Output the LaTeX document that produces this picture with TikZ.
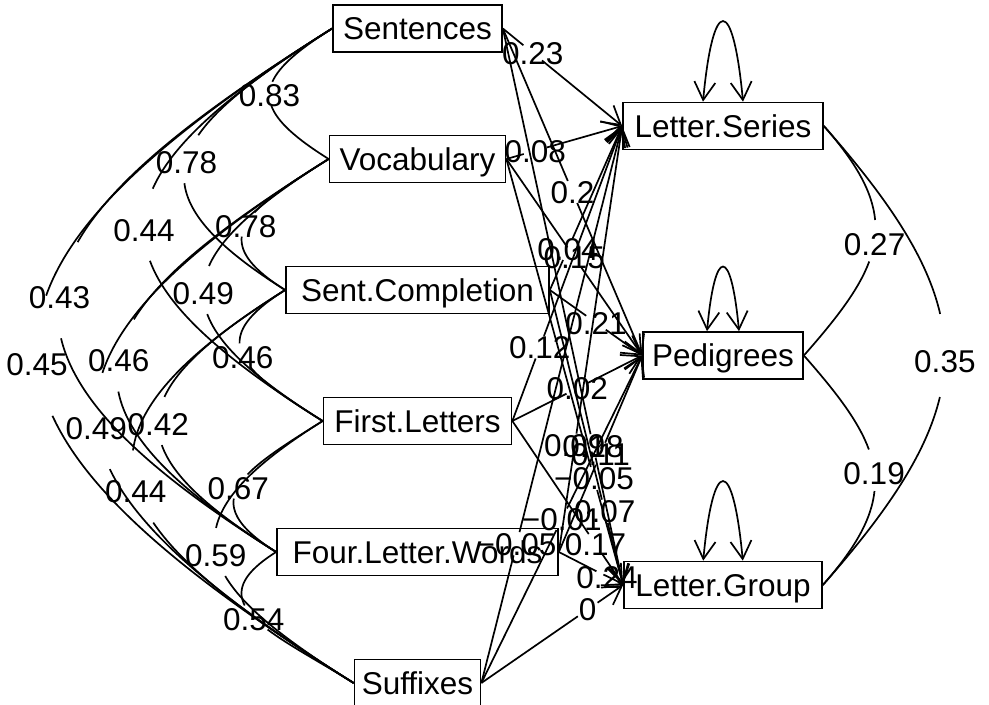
\documentclass[tikz,border=0pt]{standalone}
\usepackage{fontspec}
\setmainfont{Liberation Sans}
\usetikzlibrary{arrows.meta,calc}

\tikzset{
  box/.style={draw, line width=0.85pt, inner sep=0pt, minimum height=23.5pt,
    text height=11.28pt, text depth=0pt, font=\fontsize{15.75}{18}\selectfont},
  lab/.style={inner sep=0pt, text height=11.28pt, text depth=0pt,
    font=\fontsize{15.75}{18}\selectfont},
  >={Straight Barb[length=9pt,width=10.5pt]},
}

% cubic curve P0..P3 drawn with a gap for t in [0.4,0.6], label at the middle
\newcommand\bezgap[5]{%
  \coordinate (q01) at ($(#1)!0.4!(#2)$);
  \coordinate (q12) at ($(#2)!0.4!(#3)$);
  \coordinate (q23) at ($(#3)!0.4!(#4)$);
  \coordinate (q012) at ($(q01)!0.4!(q12)$);
  \coordinate (q123) at ($(q12)!0.4!(q23)$);
  \coordinate (qA) at ($(q012)!0.4!(q123)$);
  \draw (#1) .. controls (q01) and (q012) .. (qA);
  \coordinate (r32) at ($(#4)!0.4!(#3)$);
  \coordinate (r21) at ($(#3)!0.4!(#2)$);
  \coordinate (r10) at ($(#2)!0.4!(#1)$);
  \coordinate (r321) at ($(r32)!0.4!(r21)$);
  \coordinate (r210) at ($(r21)!0.4!(r10)$);
  \coordinate (rB) at ($(r321)!0.4!(r210)$);
  \draw (#4) .. controls (r32) and (r321) .. (rB);
  \path let \p1=(#1), \p2=(#2), \p3=(#3), \p4=(#4) in
    node[lab] at ({((\x1)+3*(\x2)+3*(\x3)+(\x4))/8},
                  {((\y1)+3*(\y2)+3*(\y3)+(\y4))/8-0.013*((\y1)-(\y4))}) {#5};
}
\newcommand\covleft[3]{%
  \path let \p1=(#1.west), \p2=(#2.west) in
    (#1.west) ++({-0.623*((\y1)-(\y2))},{-0.39*((\y1)-(\y2))}) coordinate (K1)
    (#2.west) ++({-0.623*((\y1)-(\y2))},{0.39*((\y1)-(\y2))}) coordinate (K2);
  \bezgap{#1.west}{K1}{K2}{#2.west}{#3}%
}
\newcommand\covright[3]{%
  \path let \p1=(#1.east), \p2=(#2.east) in
    (#1.east) ++({0.353*((\y1)-(\y2))},{-0.40*((\y1)-(\y2))}) coordinate (K1)
    (#2.east) ++({0.353*((\y1)-(\y2))},{0.40*((\y1)-(\y2))}) coordinate (K2);
  \bezgap{#1.east}{K1}{K2}{#2.east}{#3}%
}
\newcommand\regr[4]{%
  \path (#1.east) -- coordinate[pos=#3] (L) (#2.west);
  \node[lab] at (L) {#4};
  \draw (#1.east) -- ($(L)!6pt!(#1.east)$);
  \draw[->] ($(L)!6pt!(#2.west)$) -- (#2.west);
}
\newcommand\selfloop[3]{%
  \draw[<->] ($(#1.north)+(-#2,0)$) .. controls +(0.5*#2,-1.333*#3) and +(-0.5*#2,-1.333*#3) .. ($(#1.north)+(#2,0)$);
}

\begin{document}
\begin{tikzpicture}[x=0.5pt, y=-0.5pt, line width=0.85pt]
\useasboundingbox (0,0) rectangle (989,705);

% left nodes
\node[box, minimum width=84.5pt] (S)   at (417.5,28.5) {Sentences};
\node[box, minimum width=88pt]   (V)   at (417.5,159)  {Vocabulary};
\node[box, minimum width=131.5pt](SC)  at (417.5,290)  {Sent.Completion};
\node[box, minimum width=94pt]   (FL)  at (417.5,421)  {First.Letters};
\node[box, minimum width=140.5pt](FLW) at (417.5,552)  {Four.Letter.Words};
\node[box, minimum width=63pt]   (Suf) at (417.5,683)  {Suffixes};
% right nodes
\node[box, minimum width=100pt]  (LS)  at (723,126)    {Letter.Series};
\node[box, minimum width=80pt]   (P)   at (723,355.5)  {Pedigrees};
\node[box, minimum width=99pt]   (LG)  at (723,585)    {Letter.Group};

% covariances among predictors
\covleft{S}{V}{0.83}
\covleft{S}{SC}{0.78}
\covleft{S}{FL}{0.44}
\covleft{S}{FLW}{0.43}
\covleft{S}{Suf}{0.45}
\covleft{V}{SC}{0.78}
\covleft{V}{FL}{0.49}
\covleft{V}{FLW}{0.46}
\covleft{V}{Suf}{0.49}
\covleft{SC}{FL}{0.46}
\covleft{SC}{FLW}{0.42}
\covleft{SC}{Suf}{0.44}
\covleft{FL}{FLW}{0.67}
\covleft{FL}{Suf}{0.59}
\covleft{FLW}{Suf}{0.54}

% covariances among outcomes
\covright{LS}{P}{0.27}
\covright{P}{LG}{0.19}
\covright{LS}{LG}{0.35}

% regressions
\regr{S}{LS}{0.25}{0.23}
\regr{S}{P}{0.5}{0.2}
\regr{S}{LG}{0.75}{0.18}
\regr{V}{LS}{0.25}{0.08}
\regr{V}{P}{0.5}{0.15}
\regr{V}{LG}{0.75}{−0.05}
\regr{SC}{LS}{0.25}{0.04}
\regr{SC}{P}{0.5}{0.21}
\regr{SC}{LG}{0.75}{0.07}
\regr{FL}{LS}{0.25}{0.12}
\regr{FL}{P}{0.5}{0.02}
\regr{FL}{LG}{0.75}{0.17}
\regr{FLW}{LS}{0.25}{0.09}
\regr{FLW}{P}{0.5}{0.11}
\regr{FLW}{LG}{0.75}{0.24}
\regr{Suf}{LS}{0.25}{−0.05}
\regr{Suf}{P}{0.5}{−0.01}
\regr{Suf}{LG}{0.75}{0}

% residual variances
\selfloop{LS}{20}{80}
\selfloop{P}{16}{64}
\selfloop{LG}{19.8}{79}
\end{tikzpicture}
\end{document}
